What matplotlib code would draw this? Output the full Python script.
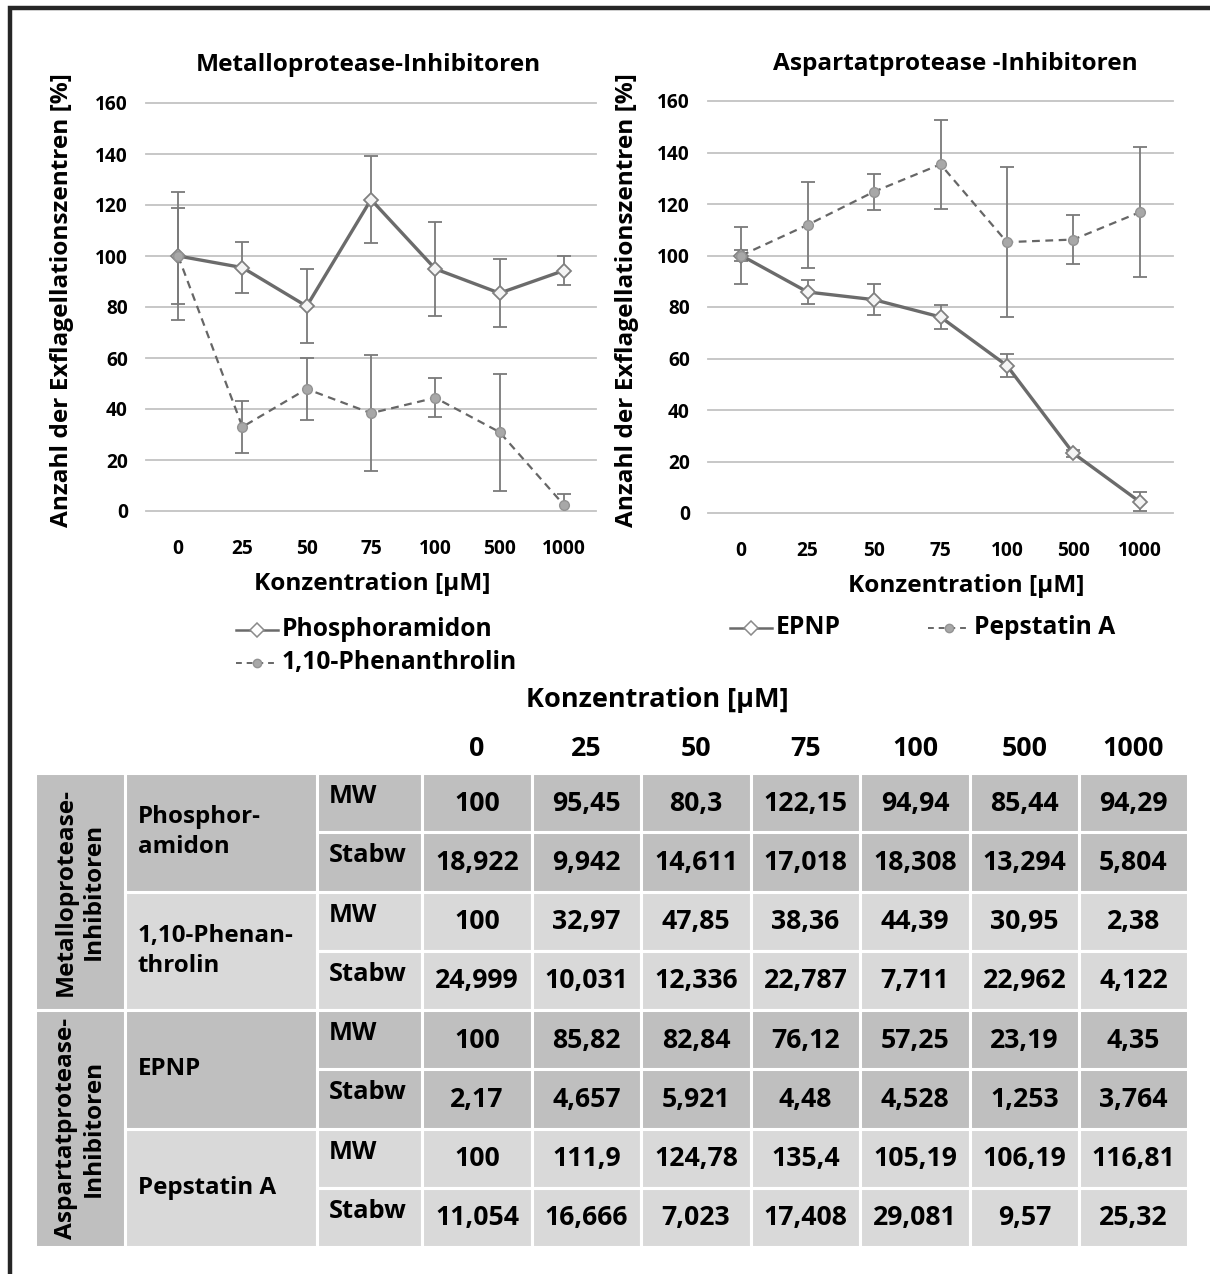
import matplotlib.pyplot as plt
from matplotlib.patches import Rectangle

plt.rcParams['font.family'] = ['Open Sans', 'DejaVu Sans']
plt.rcParams['font.weight'] = 'bold'

# data (MW = Mittelwert, Stabw = Standardabweichung)
conc = ['0', '25', '50', '75', '100', '500', '1000']

phos_mw = [100, 95.45, 80.3, 122.15, 94.94, 85.44, 94.29]
phos_sd = [18.922, 9.942, 14.611, 17.018, 18.308, 13.294, 5.804]
phen_mw = [100, 32.97, 47.85, 38.36, 44.39, 30.95, 2.38]
phen_sd = [24.999, 10.031, 12.336, 22.787, 7.711, 22.962, 4.122]
epnp_mw = [100, 85.82, 82.84, 76.12, 57.25, 23.19, 4.35]
epnp_sd = [2.17, 4.657, 5.921, 4.48, 4.528, 1.253, 3.764]
pep_mw = [100, 111.9, 124.78, 135.4, 105.19, 106.19, 116.81]
pep_sd = [11.054, 16.666, 7.023, 17.408, 29.081, 9.57, 25.32]

W, H = 1210, 1274
fig = plt.figure(figsize=(W / 100, H / 100), dpi=100)


def rect(x0, y0, x1, y1):
    return [x0 / W, 1 - y1 / H, (x1 - x0) / W, (y1 - y0) / H]


LINE = '#6b6b6b'
ERR = '#7a7a7a'


def chart(ax, s1, e1, s2, e2):
    x = list(range(len(conc)))
    ax.set_xlim(-0.5, len(conc) - 0.5)
    ax.set_ylim(0, 160)
    for v in range(0, 161, 20):
        ax.axhline(v, color='#c3c3c3', lw=1.3, clip_on=False, zorder=0)
    for sp in ax.spines.values():
        sp.set_visible(False)
    ax.set_yticks(range(0, 161, 20))
    ax.set_xticks(x)
    ax.set_xticklabels(conc)
    ax.tick_params(length=0, labelsize=13.8)
    ax.tick_params(axis='x', pad=20)
    ax.tick_params(axis='y', pad=13)
    for t in ax.get_xticklabels() + ax.get_yticklabels():
        t.set_fontweight('bold')
    # solid series with open diamonds
    ax.errorbar(x, s1, yerr=e1, fmt='none', ecolor=ERR, elinewidth=1.3,
                capsize=5, capthick=1.3, zorder=2)
    ax.plot(x, s1, ls='-', color=LINE, lw=2.4, marker='D', ms=7.5,
            mfc='#f4f4f4', mec='#808080', mew=1.3, zorder=3)
    # dashed series with small grey balls
    ax.errorbar(x, s2, yerr=e2, fmt='none', ecolor=ERR, elinewidth=1.3,
                capsize=5, capthick=1.3, zorder=2)
    ax.plot(x, s2, ls='--', dashes=(3.5, 2.5), color='#666666', lw=1.6,
            marker='o', ms=7, mfc='#a8a8a8', mec='#939393', zorder=4)


ax1 = fig.add_axes(rect(146, 103, 596, 511))
chart(ax1, phos_mw, phos_sd, phen_mw, phen_sd)
ax2 = fig.add_axes(rect(708, 101, 1173, 513))
chart(ax2, epnp_mw, epnp_sd, pep_mw, pep_sd)

# overlay in pixel coordinates for texts, legends and table
ov = fig.add_axes([0, 0, 1, 1])
ov.set_xlim(0, W)
ov.set_ylim(H, 0)
ov.axis('off')


def txt(x, y, s, size, **kw):
    kw.setdefault('ha', 'center')
    kw.setdefault('va', 'center')
    ov.text(x, y, s, fontsize=size, fontweight='bold', **kw)


# outer frame
ov.plot([10, 10, W + 10], [H + 10, 8, 8], color='#262626', lw=3.2,
        solid_joinstyle='miter', clip_on=False)

txt(368, 65, 'Metalloprotease-Inhibitoren', 17.6)
txt(955, 64, 'Aspartatprotease -Inhibitoren', 17.6)
txt(372, 584, 'Konzentration [µM]', 17.6)
txt(966, 586, 'Konzentration [µM]', 17.6)
txt(62, 300, 'Anzahl der Exflagellationszentren [%]', 17.6, rotation=90)
txt(627, 300, 'Anzahl der Exflagellationszentren [%]', 17.6, rotation=90)


def leg_entry(x0, y, label, solid):
    if solid:
        ov.plot([x0, x0 + 42], [y, y], color=LINE, lw=1.8)
        ov.plot([x0 + 21], [y], marker='D', ms=7, mfc='white', mec='#8a8a8a', mew=1.1)
    else:
        ov.plot([x0, x0 + 42], [y, y], color='#666666', lw=1.4, ls='--', dashes=(3, 2.5))
        ov.plot([x0 + 21], [y], marker='o', ms=6, mfc='#a8a8a8', mec='#939393')
    txt(x0 + 46, y, label, 17.7, ha='left')


leg_entry(236, 630, 'Phosphoramidon', True)
leg_entry(236, 663, '1,10-Phenanthrolin', False)
leg_entry(730, 628, 'EPNP', True)
leg_entry(928, 628, 'Pepstatin A', False)

# table
col_x = [35, 125, 317, 422, 532, 641, 751, 860, 970, 1079, 1188]
top = 773
rh = 59.25
DARK = '#bfbfbf'
LIGHT = '#d9d9d9'

txt(657, 700, 'Konzentration [µM]', 19.5)
for j, c in enumerate(conc):
    txt((col_x[3 + j] + col_x[4 + j]) / 2, 749, c, 19.3)


def fmt(v):
    return ('%g' % v).replace('.', ',')


groups = [('Metalloprotease-\nInhibitoren', [('Phosphor-\namidon', phos_mw, phos_sd, DARK),
                                             ('1,10-Phenan-\nthrolin', phen_mw, phen_sd, LIGHT)]),
          ('Aspartatprotease-\nInhibitoren', [('EPNP', epnp_mw, epnp_sd, DARK),
                                              ('Pepstatin A', pep_mw, pep_sd, LIGHT)])]

kw = dict(ec='white', lw=2.2)
r = 0
for gname, comps in groups:
    gy0 = top + r * rh
    gy1 = gy0 + 4 * rh
    ov.add_patch(Rectangle((col_x[0], gy0), col_x[1] - col_x[0], gy1 - gy0, fc=DARK, **kw))
    txt((col_x[0] + col_x[1]) / 2, (gy0 + gy1) / 2, gname, 17.6, rotation=90,
        linespacing=1.2)
    for cname, mw, sd, col in comps:
        cy0 = top + r * rh
        ov.add_patch(Rectangle((col_x[1], cy0), col_x[2] - col_x[1], 2 * rh, fc=col, **kw))
        txt(col_x[1] + 13, cy0 + rh, cname, 17.4, ha='left', linespacing=1.35)
        for k, (lab, vals) in enumerate([('MW', mw), ('Stabw', sd)]):
            y0 = top + r * rh
            ov.add_patch(Rectangle((col_x[2], y0), col_x[3] - col_x[2], rh, fc=col, **kw))
            txt(col_x[2] + 12, y0 + rh / 2 - 6, lab, 18.3, ha='left')
            for j, v in enumerate(vals):
                ov.add_patch(Rectangle((col_x[3 + j], y0), col_x[4 + j] - col_x[3 + j], rh,
                                       fc=col, **kw))
                txt((col_x[3 + j] + col_x[4 + j]) / 2, y0 + rh / 2 + 1, fmt(v), 19.2)
            r += 1

fig.savefig('out.png', dpi=100)
